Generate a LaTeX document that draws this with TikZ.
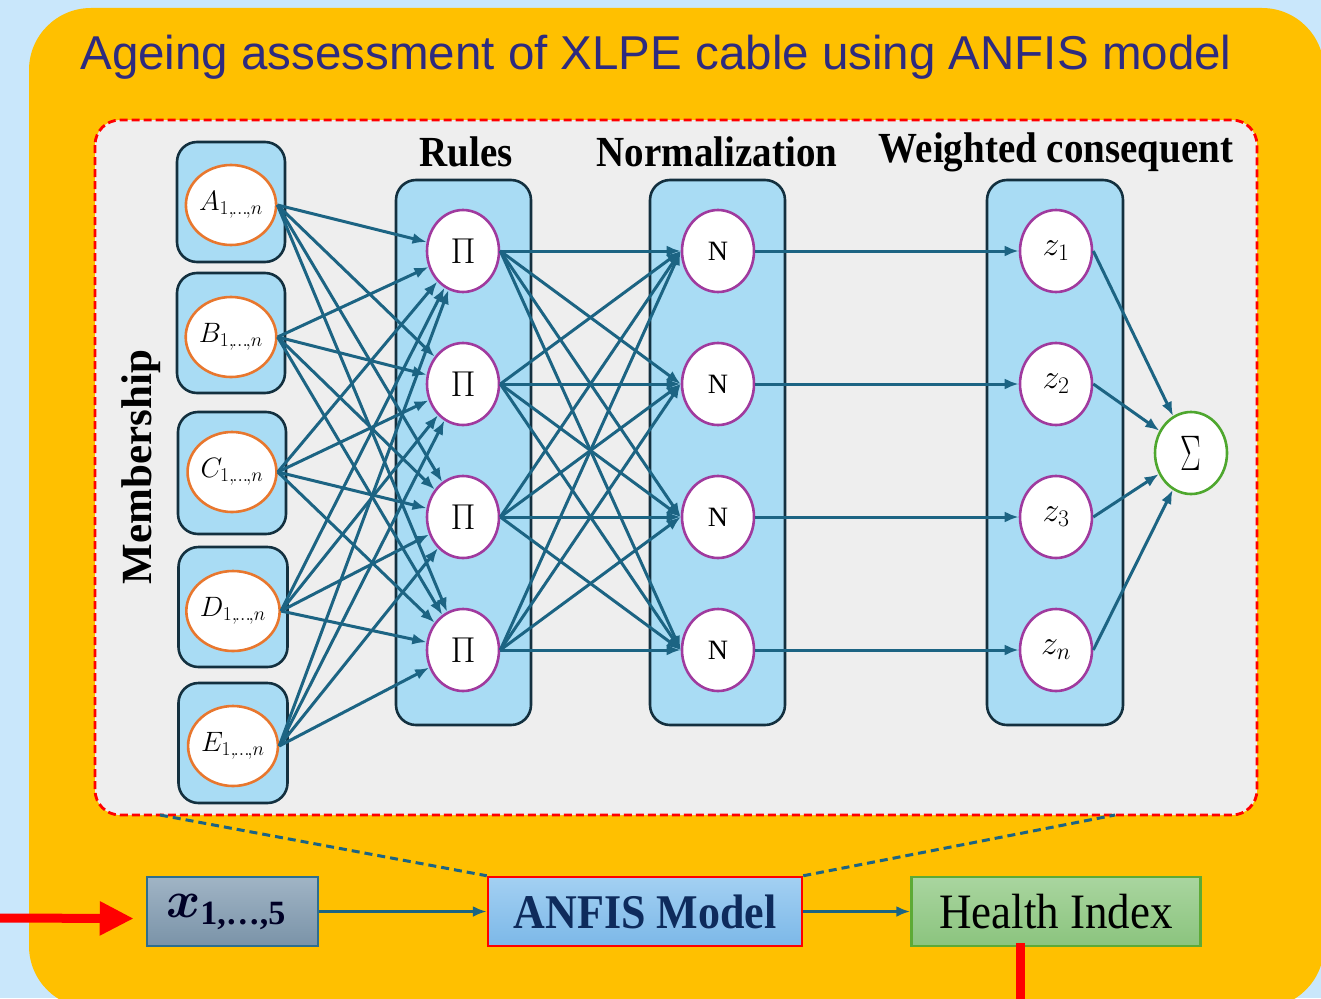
\RequirePackage{fix-cm}
\documentclass[tikz,border=0pt]{standalone}
\usepackage{amsmath}
\usepackage{fontspec}
\setmainfont{Liberation Serif}
\newfontfamily\titlefont{Liberation Sans}
\usetikzlibrary{arrows.meta,shapes.geometric,calc}
\definecolor{bgblue}{HTML}{C9E7FB}
\definecolor{orangebg}{HTML}{FFC000}
\definecolor{titlecol}{HTML}{2E2B7F}
\definecolor{panelgray}{HTML}{EEEEEE}
\definecolor{boxfill}{HTML}{A9DCF4}
\definecolor{boxline}{HTML}{13303F}
\definecolor{orangeline}{HTML}{E8772E}
\definecolor{purp}{HTML}{A03A9E}
\definecolor{sigmagreen}{HTML}{4EA72E}
\definecolor{edgecol}{HTML}{1C6483}
\definecolor{xtop}{HTML}{A0B4C5}
\definecolor{xbot}{HTML}{7A93A8}
\definecolor{xline}{HTML}{2E6E8E}
\definecolor{atop}{HTML}{A3D0F2}
\definecolor{abot}{HTML}{7CB8E8}
\definecolor{anfistext}{HTML}{0E2B5C}
\definecolor{htop}{HTML}{A9D59F}
\definecolor{hbot}{HTML}{8BC47E}
\definecolor{hline}{HTML}{5DAA35}
\begin{document}
\begin{tikzpicture}[x=1pt,y=-1pt,
  colbox/.style={draw=boxline, line width=2.6pt, fill=boxfill, rounded corners=20pt, inner sep=0pt},
  memb/.style={ellipse, draw=orangeline, line width=2.6pt, fill=white, minimum width=71pt, minimum height=80pt, inner sep=0pt, font=\fontsize{28}{28}\selectfont},
  rule/.style={ellipse, draw=purp, line width=2.6pt, fill=white, minimum width=72pt, minimum height=82pt, inner sep=0pt},
  sumnode/.style={ellipse, draw=sigmagreen, line width=2.6pt, fill=white, minimum width=72pt, minimum height=82pt, inner sep=0pt},
  edge/.style={draw=edgecol, line width=3pt, -{Latex[length=14pt,width=11pt]}},
  header/.style={font=\fontsize{39}{39}\selectfont\bfseries, inner sep=0pt},
  flowbox/.style={line width=2.5pt, inner sep=0pt, minimum height=69pt},
  linkdash/.style={draw=edgecol, line width=3pt, dash pattern=on 8pt off 5pt},
  redline/.style={draw=red, line width=9pt}
]
\useasboundingbox (0,0) rectangle (1321,998);
\fill[bgblue] (0,0) rectangle (1321,998);
\fill[orangebg, rounded corners=62pt] (29,8) rectangle (1324,1008);

\node[titlecol, font=\titlefont\fontsize{47.5}{48}\selectfont, inner sep=0pt] (title) at (656,57) {Ageing assessment of XLPE cable using ANFIS model};

\draw[red, line width=2.8pt, dash pattern=on 8pt off 4pt, fill=panelgray, rounded corners=25pt] (95,120) rectangle (1257,815);

% headers
\node[header] (hrules) at (466,152) {\scalebox{1}[1.1]{Rules}};
\node[header] (hnorm) at (717,152) {\scalebox{1}[1.1]{Normalization}};
\node[header] (hweight) at (1056,152) {\scalebox{1}[1.1]{Weighted consequent}};
\node[font=\fontsize{43}{43}\selectfont\bfseries, rotate=90, inner sep=0pt] (hmemb) at (141,467) {Membership};

% membership boxes
\node[colbox, minimum width=108pt, minimum height=120pt] (bA) at (231,202) {};
\node[colbox, minimum width=108pt, minimum height=120pt] (bB) at (231,333) {};
\node[colbox, minimum width=108pt, minimum height=122pt] (bC) at (232,473) {};
\node[colbox, minimum width=109pt, minimum height=120pt] (bD) at (233,607) {};
\node[colbox, minimum width=109pt, minimum height=120pt] (bE) at (233,743) {};
% column boxes
\node[colbox, minimum width=135pt, minimum height=545pt] (bR) at (463.5,452.5) {};
\node[colbox, minimum width=135pt, minimum height=545pt] (bN) at (717.5,452.5) {};
\node[colbox, minimum width=136pt, minimum height=545pt] (bW) at (1055,452.5) {};

% membership circles
\node[memb] (A) at (231,205) {$A_{1,\mkern-2mu\ldots\mkern-2mu,n}$};
\node[memb] (B) at (231,337) {$B_{1,\mkern-2mu\ldots\mkern-2mu,n}$};
\node[memb] (C) at (232,472) {$C_{1,\mkern-2mu\ldots\mkern-2mu,n}$};
\node[memb] (D) at (233,611) {$D_{1,\mkern-2mu\ldots\mkern-2mu,n}$};
\node[memb] (E) at (233,746) {$E_{1,\mkern-2mu\ldots\mkern-2mu,n}$};

% rule nodes
\foreach \i/\yy in {1/251,2/384,3/517,4/650}{
  \node[rule, font=\fontsize{36}{36}\selectfont] (P\i) at (463,\yy) {$\Pi$};
  \node[rule, font=\fontsize{28}{28}\selectfont] (N\i) at (718,\yy) {N};
}
\node[rule, font=\fontsize{34}{34}\selectfont] (Z1) at (1056,251) {$z_1$};
\node[rule, font=\fontsize{34}{34}\selectfont] (Z2) at (1056,384) {$z_2$};
\node[rule, font=\fontsize{34}{34}\selectfont] (Z3) at (1056,517) {$z_3$};
\node[rule, font=\fontsize{34}{34}\selectfont] (Z4) at (1056,650) {$z_n$};
\node[sumnode, font=\fontsize{50}{50}\selectfont] (S) at (1191,453) {\scalebox{0.62}[1]{$\Sigma$}};

% edges
\foreach \m in {A,B,C,D,E}{
  \foreach \p in {1,2,3,4}{
    \draw[edge] (\m.east) -- (P\p);
  }
}
\foreach \p in {1,2,3,4}{
  \foreach \n in {1,2,3,4}{
    \draw[edge] (P\p.east) -- (N\n.west);
  }
}
\foreach \n in {1,2,3,4}{
  \draw[edge] (N\n.east) -- (Z\n.west);
  \draw[edge] (Z\n.east) -- (S);
}

% bottom flow
\node[flowbox, draw=xline, top color=xtop, bottom color=xbot, minimum width=171pt] (xin) at (232.5,911.5) {};
\node[inner sep=0pt, font=\fontsize{52}{52}\selectfont, text=black!85!blue] (xlabel) at (226,912) {$\boldsymbol{x}_{\text{\fontsize{34}{34}\selectfont\bfseries 1,\ldots,5}}$};
\node[flowbox, draw=red, top color=atop, bottom color=abot, minimum width=314pt, text=anfistext, font=\fontsize{44}{44}\selectfont\bfseries] (anfis) at (645,911.5) {\scalebox{1}[1.1]{ANFIS Model}};
\node[flowbox, draw=hline, top color=htop, bottom color=hbot, minimum width=289pt, font=\fontsize{45}{45}\selectfont] (hi) at (1056,911.5) {\scalebox{1}[1.1]{Health Index}};

\draw[edge] (xin.east) -- (anfis.west);
\draw[edge] (anfis.east) -- (hi.west);

\coordinate (dl) at (160,815);
\coordinate (dr) at (1115,815);
\draw[linkdash] (dl) -- (anfis.north west);
\draw[linkdash] (anfis.north east) -- (dr);

\coordinate (redin) at (-2,918);
\draw[redline, -{Triangle[length=34pt,width=32pt]}] (redin) -- ($(xin.west)+(-12,7)$);
\coordinate (hiout) at (1020,1002);
\draw[redline] ($(hi.south -| hiout)+(0,-4)$) -- (hiout);
\end{tikzpicture}
\end{document}
